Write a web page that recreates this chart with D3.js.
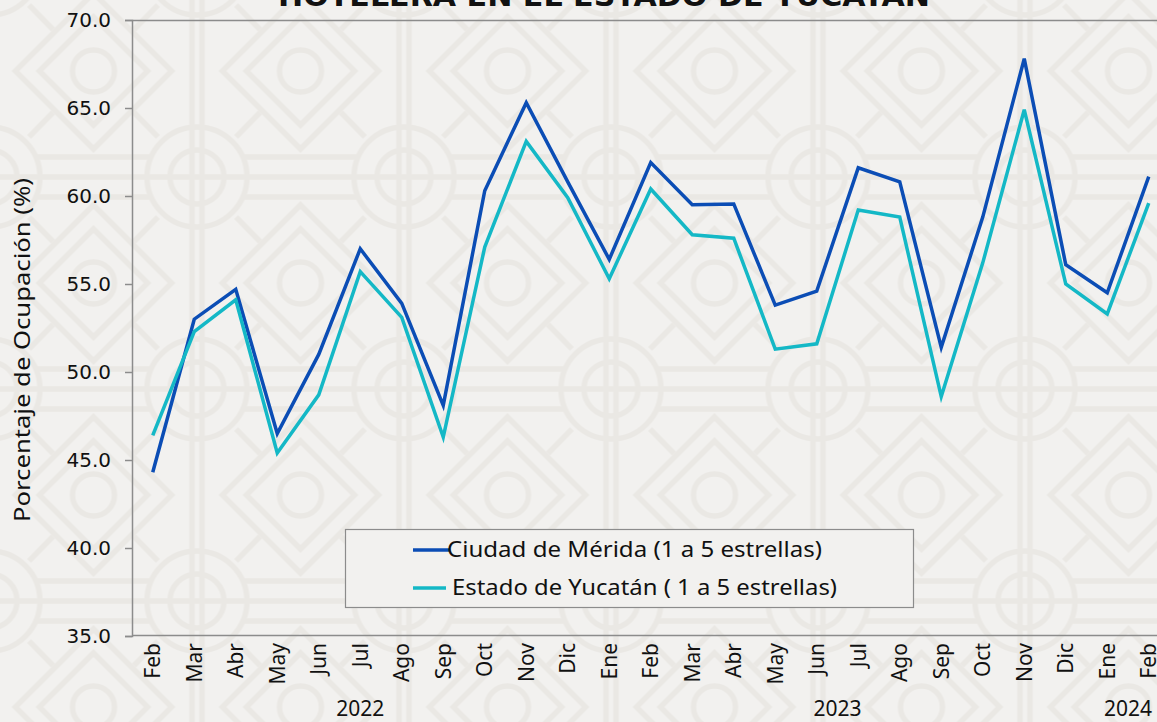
<!DOCTYPE html>
<html>
<head>
<meta charset="utf-8">
<script src="https://cdn.jsdelivr.net/npm/d3@7"></script>
<style>
  body { margin: 0; background: #f2f1ef; }
  svg { display: block; }
</style>
</head>
<body>
<svg id="chart"></svg>
<script>
// months from Feb 2022 to Feb 2024
const months = ["Feb","Mar","Abr","May","Jun","Jul","Ago","Sep","Oct","Nov","Dic",
                "Ene","Feb","Mar","Abr","May","Jun","Jul","Ago","Sep","Oct","Nov","Dic",
                "Ene","Feb"];
const yearLabels = ["2022", "2023", "2024"];
const yearFirst = [0, 11, 23];
const yearLast = [10, 22, 24];

const merida = [44.3,53.0,54.7,46.5,51.0,57.0,53.9,48.1,60.3,65.3,60.8,56.4,
                61.9,59.5,59.55,53.8,54.6,61.6,60.8,51.4,58.8,67.8,56.1,54.5,61.1];
const yucatan = [46.4,52.3,54.1,45.4,48.7,55.7,53.1,46.3,57.1,63.1,59.9,55.3,
                 60.4,57.8,57.6,51.3,51.6,59.2,58.8,48.6,56.2,64.9,55.0,53.3,59.6];

const yTicks = [35, 40, 45, 50, 55, 60, 65, 70];
const seriesNames = ["Ciudad de Mérida (1 a 5 estrellas)", "Estado de Yucatán ( 1 a 5 estrellas)"];
const seriesColors = ["#0b4db5", "#14b8c6"];

const W = 1157, H = 722;
const margin = { top: 20, left: 132, bottom: 86 };
const bg = "#f2f1ef";

const svg = d3.select("#chart").attr("width", W).attr("height", H);

// background with a light ornamental pattern
const defs = svg.append("defs");
const tw = 207, th = 212;
const pat = defs.append("pattern")
    .attr("id", "bgpat")
    .attr("patternUnits", "userSpaceOnUse")
    .attr("x", 197 - tw / 2).attr("y", 177 - th / 2)
    .attr("width", tw).attr("height", th);
pat.append("rect").attr("width", tw).attr("height", th).attr("fill", bg);
const pg = pat.append("g").attr("fill", "none").attr("stroke", "#eae8e4").attr("stroke-width", 5.5);
const cx = tw / 2, cy = th / 2;
// horizontal bands and vertical pair through the circle motif
[-20, 0, 20].forEach(o => pg.append("line").attr("x1", 0).attr("x2", tw).attr("y1", cy + o).attr("y2", cy + o));
[-5, 5].forEach(o => pg.append("line").attr("x1", cx + o).attr("x2", cx + o).attr("y1", 0).attr("y2", th));
pg.append("circle").attr("cx", cx).attr("cy", cy).attr("r", 50).attr("fill", bg);
pg.append("circle").attr("cx", cx).attr("cy", cy).attr("r", 27);
[-5, 5].forEach(o => pg.append("line").attr("x1", cx + o).attr("x2", cx + o).attr("y1", cy - 50).attr("y2", cy + 50));
pg.append("line").attr("x1", cx - 50).attr("x2", cx + 50).attr("y1", cy).attr("y2", cy);
// diagonals between circle and diamonds
[[0, 0], [tw, 0], [0, th], [tw, th]].forEach(([px, py]) => {
  const dx = px - cx, dy = py - cy, len = Math.hypot(dx, dy);
  const ux = dx / len, uy = dy / len;
  pg.append("line")
    .attr("x1", cx + ux * 56).attr("y1", cy + uy * 56)
    .attr("x2", px - ux * 58).attr("y2", py - uy * 58);
  // diamond motif at each corner
  [78, 54].forEach(r => pg.append("path")
    .attr("d", `M${px},${py - r}L${px + r},${py}L${px},${py + r}L${px - r},${py}Z`));
  pg.append("circle").attr("cx", px).attr("cy", py).attr("r", 21);
});
svg.append("rect").attr("width", W).attr("height", H).attr("fill", "url(#bgpat)");

// scales
const x = d3.scaleBand()
    .domain(d3.range(months.length))
    .range([margin.left, margin.left + months.length * 41.5]);
const xc = i => x(i) + x.bandwidth() / 2;

const y = d3.scaleLinear()
    .domain([35, 70])
    .range([636, margin.top]);

// top border
svg.append("line")
    .attr("x1", margin.left).attr("x2", W)
    .attr("y1", margin.top + 0.5).attr("y2", margin.top + 0.5)
    .attr("stroke", "#8c8c8c").attr("stroke-width", 1.5);

// y axis
const yAxisG = svg.append("g")
    .attr("transform", `translate(${margin.left},0)`)
    .call(d3.axisLeft(y).tickValues(yTicks).tickFormat(d3.format(".1f")).tickSize(7).tickPadding(14));
yAxisG.select(".domain").attr("stroke", "#8c8c8c").attr("stroke-width", 1.5);
yAxisG.selectAll(".tick line").attr("stroke", "#8c8c8c").attr("stroke-width", 1.5);
yAxisG.selectAll(".tick text")
    .attr("fill", "#111")
    .style("font-family", "'DejaVu Sans', sans-serif")
    .style("font-size", "20px");

// x axis line
svg.append("line")
    .attr("x1", margin.left).attr("x2", W)
    .attr("y1", 635.5).attr("y2", 635.5)
    .attr("stroke", "#8c8c8c").attr("stroke-width", 1.5);

// month labels
svg.append("g").selectAll("text")
    .data(months)
    .join("text")
    .attr("transform", (d, i) => `translate(${xc(i)},643) rotate(-90)`)
    .attr("text-anchor", "end")
    .attr("dy", "0.36em")
    .attr("fill", "#111")
    .style("font-family", "'Noto Sans', sans-serif")
    .style("font-size", "21px")
    .text(d => d);

// year labels
svg.append("g").selectAll("text")
    .data(yearLabels)
    .join("text")
    .attr("x", (d, i) => Math.min((xc(yearFirst[i]) + xc(yearLast[i])) / 2, W - 26))
    .attr("y", 716)
    .attr("text-anchor", "middle")
    .attr("fill", "#111")
    .style("font-family", "'Noto Sans', sans-serif")
    .style("font-size", "21px")
    .text(d => d);

// axis title
svg.append("text")
    .attr("transform", `translate(30,350) rotate(-90)`)
    .attr("text-anchor", "middle")
    .attr("fill", "#111")
    .attr("textLength", 344)
    .attr("lengthAdjust", "spacingAndGlyphs")
    .style("font-family", "'Noto Sans', sans-serif")
    .style("font-size", "21px")
    .text("Porcentaje de Ocupación (%)");

// title (cut off by the top edge)
svg.append("text")
    .attr("x", 604).attr("y", 6)
    .attr("text-anchor", "middle")
    .attr("fill", "#111")
    .attr("textLength", 652)
    .attr("lengthAdjust", "spacingAndGlyphs")
    .style("font-family", "'DejaVu Sans', sans-serif")
    .style("font-weight", "bold")
    .style("font-size", "28px")
    .text("HOTELERA EN EL ESTADO DE YUCATÁN");

// lines
const line = d3.line().x((d, i) => xc(i)).y(d => y(d));
[merida, yucatan].forEach((s, k) => {
  svg.append("path")
      .datum(s)
      .attr("fill", "none")
      .attr("stroke", seriesColors[k])
      .attr("stroke-width", 3.5)
      .attr("stroke-linejoin", "miter")
      .attr("d", line);
});

// legend
const lg = svg.append("g");
lg.append("rect")
    .attr("x", 345.5).attr("y", 529.5).attr("width", 568).attr("height", 78)
    .attr("fill", bg).attr("stroke", "#8c8c8c").attr("stroke-width", 1.2);
const legX = [447, 452], legY = [550, 588], legLen = [375, 385];
seriesNames.forEach((n, k) => {
  lg.append("line")
      .attr("x1", 413).attr("x2", k === 0 ? 449 : 446)
      .attr("y1", legY[k]).attr("y2", legY[k])
      .attr("stroke", seriesColors[k]).attr("stroke-width", 3.5);
  lg.append("text")
      .attr("x", legX[k]).attr("y", legY[k])
      .attr("dy", "0.35em")
      .attr("fill", "#111")
      .attr("textLength", legLen[k])
      .attr("lengthAdjust", "spacingAndGlyphs")
      .style("font-family", "'Noto Sans', sans-serif")
      .style("font-size", "21px")
      .text(n);
});
</script>
</body>
</html>
